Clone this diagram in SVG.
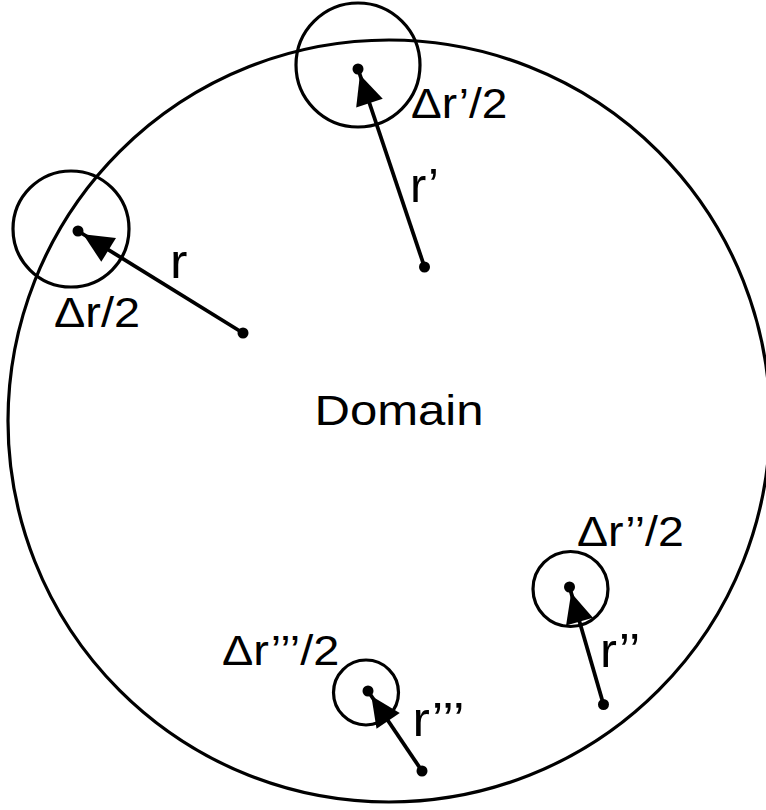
<svg xmlns="http://www.w3.org/2000/svg" width="766" height="810" viewBox="0 0 766 810">
<style>
.ring{fill:none;stroke:#000;stroke-width:3.2}
.dot{fill:#000}
.vec{stroke:#000;stroke-width:3.8;fill:none;marker-end:url(#ah)}
.lbl{font-family:"Liberation Sans",Arial,Helvetica,sans-serif;font-size:43px;fill:#000}
.rl{font-family:"Liberation Sans",Arial,Helvetica,sans-serif;font-size:48px;fill:#000}
</style>
<defs>
<marker id="ah" viewBox="-40 -16 40 32" markerWidth="40" markerHeight="32" refX="0" refY="0" markerUnits="userSpaceOnUse" orient="auto">
<path d="M-6,0 L-36,-14 L-36,14 Z" fill="#000"/>
</marker>
</defs>
<rect width="766" height="810" fill="#fff"/>
<g id="domain">
<circle class="ring" cx="389" cy="421" r="381"/>
<text class="lbl" x="314.5" y="425" font-size="45" textLength="169" lengthAdjust="spacingAndGlyphs">Domain</text>
</g>
<g id="region-r">
<circle class="ring" cx="71" cy="229" r="58"/>
<circle class="dot" cx="78" cy="231" r="5.5"/>
<circle class="dot" cx="243" cy="333" r="5.5"/>
<text class="lbl" x="54" y="327" textLength="86" lengthAdjust="spacingAndGlyphs">Δr/2</text>
<text class="rl" x="170" y="278" textLength="17.4" lengthAdjust="spacingAndGlyphs">r</text>
</g>
<g id="region-r1">
<circle class="ring" cx="358" cy="65" r="62"/>
<circle class="dot" cx="358" cy="69" r="5.5"/>
<circle class="dot" cx="424.5" cy="267" r="5.5"/>
<text class="lbl" x="411" y="118" textLength="96.4" lengthAdjust="spacingAndGlyphs">Δr’/2</text>
<text class="rl" x="410" y="202" textLength="29" lengthAdjust="spacingAndGlyphs">r’</text>
</g>
<g id="region-r2">
<circle class="ring" cx="570.5" cy="589" r="37.5"/>
<circle class="dot" cx="569.5" cy="587" r="5.5"/>
<circle class="dot" cx="603.5" cy="704.5" r="5.5"/>
<text class="lbl" x="577" y="546" textLength="106.8" lengthAdjust="spacingAndGlyphs">Δr’’/2</text>
<text class="rl" x="600" y="667" textLength="40.4" lengthAdjust="spacingAndGlyphs">r’’</text>
</g>
<g id="region-r3">
<circle class="ring" cx="366" cy="692.5" r="32.5"/>
<circle class="dot" cx="368" cy="691" r="5.5"/>
<circle class="dot" cx="422" cy="771" r="5.5"/>
<text class="lbl" x="222" y="665" textLength="117.3" lengthAdjust="spacingAndGlyphs">Δr’’’/2</text>
<text class="rl" x="412.5" y="736" textLength="52" lengthAdjust="spacingAndGlyphs">r’’’</text>
</g>
<g id="connectors">
<line class="vec" x1="243" y1="333" x2="78" y2="231"/>
<line class="vec" x1="424.5" y1="267" x2="358" y2="69"/>
<line class="vec" x1="603.5" y1="704.5" x2="569.5" y2="587"/>
<line class="vec" x1="422" y1="771" x2="368" y2="691"/>
</g>
</svg>
